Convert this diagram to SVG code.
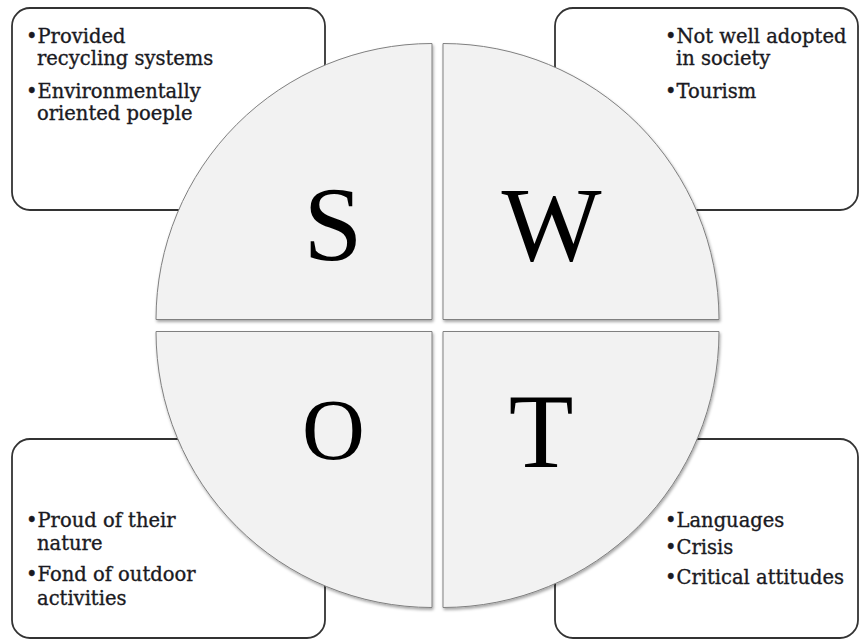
<svg xmlns="http://www.w3.org/2000/svg" width="860" height="641" viewBox="0 0 860 641">
<defs>
<filter id="sh" x="-10%" y="-10%" width="120%" height="120%">
<feDropShadow dx="1" dy="2" stdDeviation="1.5" flood-color="#000" flood-opacity="0.35"/>
</filter>
</defs>
<style>
.box{fill:#fff;stroke:#333;stroke-width:1.8}
.q{fill:#f2f2f2;stroke:#808080;stroke-width:1;filter:url(#sh)}
.t{font-family:"DejaVu Serif","Liberation Serif",serif;font-size:19.5px;fill:#1a1a22;stroke:#1a1a22;stroke-width:0.35}
.big{font-family:"Liberation Serif",serif;font-size:106px;fill:#000;text-anchor:middle}
</style>
<rect width="860" height="641" fill="#fff"/>
<g id="box-s">
<rect class="box" x="12" y="8" width="313" height="202" rx="18"/>
<text class="t" x="26" y="43">•Provided</text>
<text class="t" x="37" y="65">recycling systems</text>
<text class="t" x="26" y="98">•Environmentally</text>
<text class="t" x="37" y="120">oriented poeple</text>
</g>
<g id="box-w">
<rect class="box" x="555" y="8" width="303" height="202" rx="18"/>
<text class="t" x="665" y="43">•Not well adopted</text>
<text class="t" x="676" y="65">in society</text>
<text class="t" x="665" y="98">•Tourism</text>
</g>
<g id="box-o">
<rect class="box" x="12" y="439" width="313" height="199" rx="18"/>
<text class="t" x="26" y="527">•Proud of their</text>
<text class="t" x="37" y="550">nature</text>
<text class="t" x="26" y="581">•Fond of outdoor</text>
<text class="t" x="37" y="605">activities</text>
</g>
<g id="box-t">
<rect class="box" x="555" y="439" width="303" height="199" rx="18"/>
<text class="t" x="665" y="527">•Languages</text>
<text class="t" x="665" y="554">•Crisis</text>
<text class="t" x="665" y="584">•Critical attitudes</text>
</g>
<g id="quad-s">
<path class="q" d="M432 319.5 H156 A276 276 0 0 1 432 43.5 Z"/>
<text class="big" x="333" y="260">S</text>
</g>
<g id="quad-w">
<path class="q" d="M443 319.5 V43.5 A276 276 0 0 1 719 319.5 Z"/>
<text class="big" x="551.5" y="260">W</text>
</g>
<g id="quad-o">
<path class="q" d="M432 331.5 V607.5 A276 276 0 0 1 156 331.5 Z"/>
<text class="big" x="333.5" y="459" style="font-size:87px">O</text>
</g>
<g id="quad-t">
<path class="q" d="M443 331.5 H719 A276 276 0 0 1 443 607.5 Z"/>
<text class="big" x="541" y="467">T</text>
</g>
<g id="connectors"/>
</svg>
